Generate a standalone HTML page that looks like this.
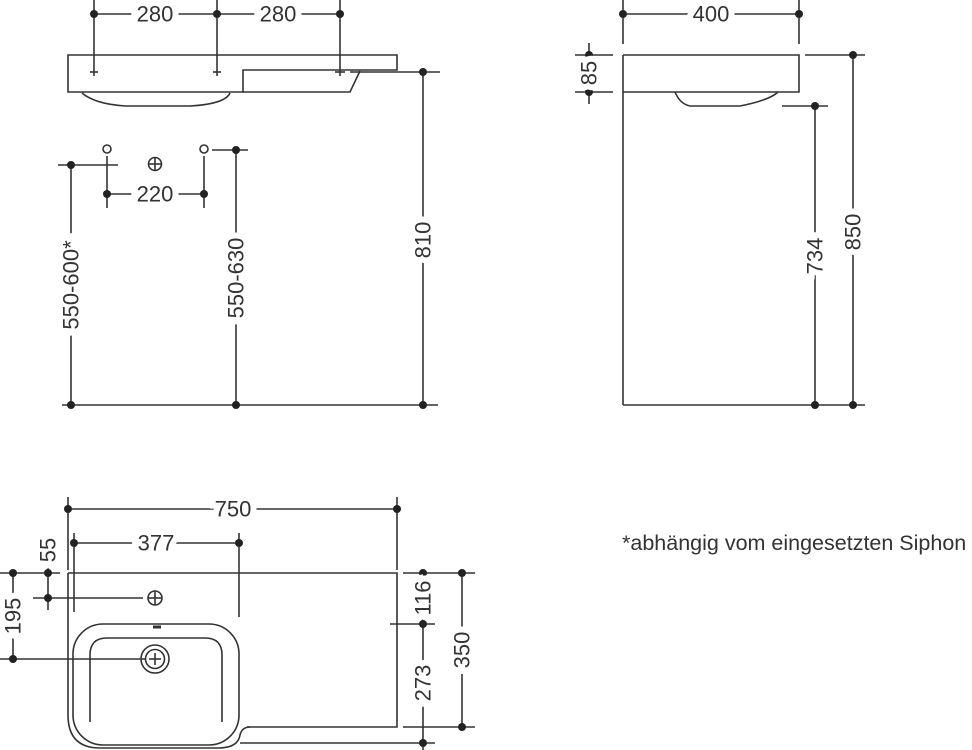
<!DOCTYPE html>
<html><head><meta charset="utf-8"><style>
html,body{margin:0;padding:0;background:#fff;}
svg{display:block;}
text{font-family:"Liberation Sans",sans-serif;font-size:22px;fill:#333;}
.t{paint-order:stroke;stroke:#fff;stroke-width:12px;}
</style></head><body>
<svg width="972" height="750" viewBox="0 0 972 750" xmlns="http://www.w3.org/2000/svg">
<g stroke="#333" stroke-width="1.6" fill="none">
<line x1="94" y1="0" x2="94" y2="76"/><line x1="217" y1="0" x2="217" y2="76"/><line x1="340" y1="0" x2="340" y2="76"/>
<line x1="94" y1="14" x2="340" y2="14"/>
<path d="M68 55 H397 V70 H243 V92 H68 Z"/>
<path d="M243 92 H350 L360 71"/>
<path d="M82 93 Q95 104 125 106 L190 106 Q225 104 230 93"/>
<line x1="90" y1="72" x2="98" y2="72"/><line x1="213" y1="72" x2="221" y2="72"/><line x1="335" y1="72" x2="345" y2="72"/>
<line x1="350" y1="72" x2="440" y2="72"/>
<line x1="423" y1="72" x2="423" y2="405"/>
<circle cx="107" cy="149" r="4"/><circle cx="204" cy="149" r="4"/>
<circle cx="155" cy="164" r="6.5"/><line x1="148.5" y1="164" x2="161.5" y2="164"/><line x1="155" y1="157.5" x2="155" y2="170.5"/>
<line x1="107" y1="156" x2="107" y2="208"/><line x1="204" y1="156" x2="204" y2="208"/>
<line x1="107" y1="194" x2="204" y2="194"/>
<line x1="58" y1="165" x2="118" y2="165"/><line x1="71" y1="165" x2="71" y2="405"/>
<line x1="212" y1="150" x2="248" y2="150"/><line x1="236" y1="150" x2="236" y2="405"/>
<line x1="62" y1="405" x2="438" y2="405"/>
<line x1="623" y1="0" x2="623" y2="44"/><line x1="799" y1="0" x2="799" y2="44"/>
<line x1="623" y1="14" x2="799" y2="14"/>
<path d="M623 55 H799 V92 H623"/>
<line x1="623" y1="55" x2="623" y2="405"/>
<path d="M675 92 Q680 104 690 106 L740 106 Q770 100 778 92"/>
<line x1="575" y1="55" x2="613" y2="55"/><line x1="575" y1="92" x2="613" y2="92"/>
<line x1="589" y1="43" x2="589" y2="104"/>
<line x1="805" y1="55" x2="865" y2="55"/><line x1="853" y1="55" x2="853" y2="405"/>
<line x1="782" y1="106" x2="828" y2="106"/><line x1="815" y1="106" x2="815" y2="405"/>
<line x1="623" y1="405" x2="865" y2="405"/>
<line x1="68" y1="497" x2="68" y2="570"/><line x1="397" y1="497" x2="397" y2="570"/>
<line x1="68" y1="509" x2="397" y2="509"/>
<line x1="74" y1="533" x2="74" y2="612"/><line x1="239" y1="533" x2="239" y2="617"/>
<line x1="74" y1="543" x2="239" y2="543"/>
<path d="M68 573 H397 V727 H247"/>
<path d="M68 573 V715 Q68 748 100 748 H218 Q238 748 240 735 Q242 727 250 727"/>
<rect x="73" y="624" width="166" height="121" rx="30"/>
<path d="M90 722 V655 Q90 638 107 638 H205 Q222 638 222 655 V722"/>
<path d="M153 627 H161" stroke-width="3"/>
<circle cx="155" cy="659" r="14"/><circle cx="155" cy="659" r="9.5"/>
<line x1="149" y1="659" x2="161" y2="659"/><line x1="155" y1="653" x2="155" y2="665"/>
<circle cx="155" cy="598" r="7"/><line x1="148" y1="598" x2="162" y2="598"/><line x1="155" y1="591" x2="155" y2="605"/>
<line x1="0" y1="573" x2="60" y2="573"/><line x1="0" y1="659" x2="145" y2="659"/>
<line x1="13" y1="573" x2="13" y2="659"/>
<line x1="48" y1="567" x2="48" y2="610"/>
<line x1="33" y1="598" x2="143" y2="598"/>
<line x1="403" y1="573" x2="475" y2="573"/><line x1="390" y1="624" x2="435" y2="624"/>
<line x1="240" y1="743" x2="435" y2="743"/><line x1="403" y1="727" x2="475" y2="727"/>
<line x1="423" y1="573" x2="423" y2="750"/>
<line x1="462" y1="573" x2="462" y2="727"/>
</g>
<g fill="#222">
<circle cx="94" cy="14" r="4"/><circle cx="217" cy="14" r="4"/><circle cx="340" cy="14" r="4"/>
<circle cx="423" cy="72" r="4"/>
<circle cx="107" cy="194" r="4"/><circle cx="204" cy="194" r="4"/>
<circle cx="71" cy="165" r="4"/><circle cx="236" cy="150" r="4"/>
<circle cx="71" cy="405" r="4"/><circle cx="236" cy="405" r="4"/><circle cx="423" cy="405" r="4"/>
<circle cx="623" cy="14" r="4"/><circle cx="799" cy="14" r="4"/>
<circle cx="589" cy="55" r="4"/><circle cx="589" cy="92" r="4"/>
<circle cx="853" cy="55" r="4"/><circle cx="853" cy="405" r="4"/>
<circle cx="815" cy="106" r="4"/><circle cx="815" cy="405" r="4"/>
<circle cx="68" cy="509" r="4"/><circle cx="397" cy="509" r="4"/>
<circle cx="74" cy="543" r="4"/><circle cx="239" cy="543" r="4"/>
<circle cx="13" cy="573" r="4"/><circle cx="13" cy="659" r="4"/>
<circle cx="48" cy="573" r="4"/><circle cx="48" cy="598" r="4"/>
<circle cx="423" cy="573" r="4"/><circle cx="423" cy="624" r="4"/><circle cx="423" cy="743" r="4"/>
<circle cx="462" cy="573" r="4"/><circle cx="462" cy="727" r="4"/>
</g>
<g text-anchor="middle" dominant-baseline="central">
<text class="t" x="155" y="14">280</text>
<text class="t" x="278" y="14">280</text>
<text class="t" x="155" y="194">220</text>
<text class="t" x="711" y="14">400</text>
<text class="t" x="233" y="509">750</text>
<text class="t" x="156" y="543">377</text>
<text class="t" transform="translate(71,285) rotate(-90)">550-600*</text>
<text class="t" transform="translate(236,278) rotate(-90)">550-630</text>
<text class="t" transform="translate(423,240) rotate(-90)">810</text>
<text class="t" transform="translate(589,73) rotate(-90)">85</text>
<text class="t" transform="translate(815,256) rotate(-90)">734</text>
<text class="t" transform="translate(853,232) rotate(-90)">850</text>
<text class="t" transform="translate(48,550) rotate(-90)">55</text>
<text class="t" transform="translate(13,616) rotate(-90)">195</text>
<text class="t" transform="translate(423,598) rotate(-90)">116</text>
<text class="t" transform="translate(423,683) rotate(-90)">273</text>
<text class="t" transform="translate(462,650) rotate(-90)">350</text>
</g>
<text x="622" y="550" style="font-size:21.5px">*abhängig vom eingesetzten Siphon</text>
</svg>
</body></html>
